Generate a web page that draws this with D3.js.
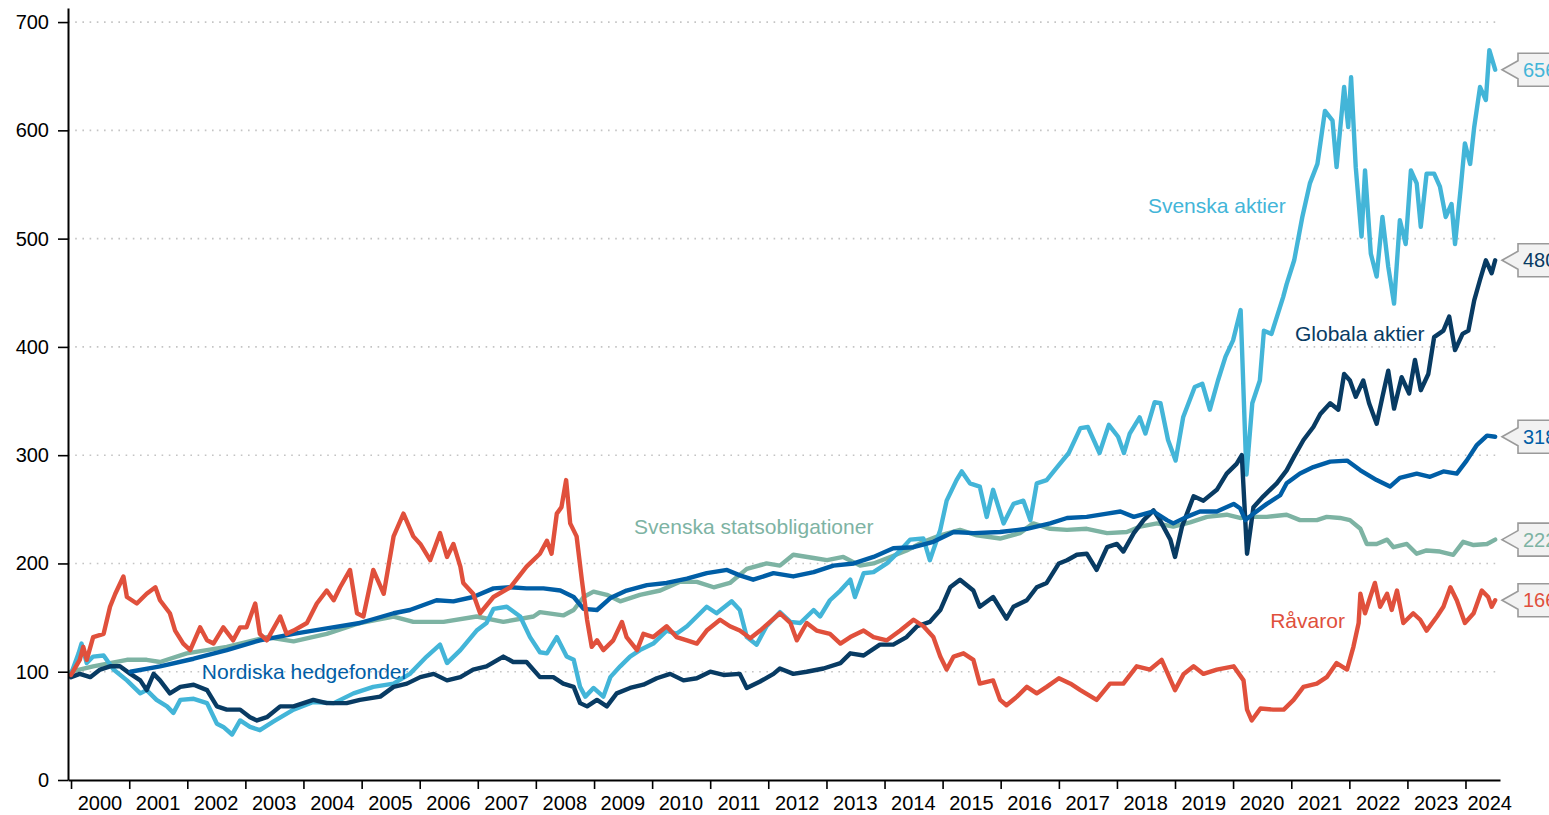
<!DOCTYPE html>
<html>
<head>
<meta charset="utf-8">
<script src="https://cdn.jsdelivr.net/npm/d3@7"></script>
<style>
  body { margin: 0; background: #fff; }
  svg { display: block; font-family: "Liberation Sans", Arial, sans-serif; }
</style>
</head>
<body>
<div id="chart"></div>
<script>
// Index series, [decimal year, value]
var svenskaAktier = [[2000.00,98],[2000.13,117],[2000.18,126],[2000.27,108],[2000.38,114],[2000.56,115],[2000.73,102],[2000.96,92],[2001.19,80],[2001.30,83],[2001.47,74],[2001.65,68],[2001.76,62],[2001.88,74],[2002.11,75],[2002.34,71],[2002.51,52],[2002.62,49],[2002.77,42],[2002.91,55],[2003.08,49],[2003.25,46],[2003.48,54],[2003.83,65],[2004.17,72],[2004.52,71],[2004.86,80],[2005.20,86],[2005.55,89],[2005.83,98],[2006.12,114],[2006.35,125],[2006.47,108],[2006.70,120],[2006.98,138],[2007.15,145],[2007.27,158],[2007.50,160],[2007.73,151],[2007.90,132],[2008.07,118],[2008.19,117],[2008.36,132],[2008.53,114],[2008.65,111],[2008.76,86],[2008.85,77],[2008.99,85],[2009.16,77],[2009.28,95],[2009.45,105],[2009.62,114],[2009.79,120],[2010.02,126],[2010.25,138],[2010.42,135],[2010.60,142],[2010.77,151],[2010.94,160],[2011.11,154],[2011.37,165],[2011.51,157],[2011.63,132],[2011.80,125],[2011.97,142],[2012.20,155],[2012.38,146],[2012.55,145],[2012.78,157],[2012.89,151],[2013.06,166],[2013.24,175],[2013.41,185],[2013.49,169],[2013.64,191],[2013.81,192],[2014.04,200],[2014.27,212],[2014.44,222],[2014.67,223],[2014.78,203],[2014.96,231],[2015.07,258],[2015.24,277],[2015.33,285],[2015.47,274],[2015.64,271],[2015.76,243],[2015.87,268],[2016.05,237],[2016.22,255],[2016.39,258],[2016.51,240],[2016.62,274],[2016.79,277],[2016.97,289],[2017.17,302],[2017.37,325],[2017.50,326],[2017.70,302],[2017.86,328],[2018.02,317],[2018.12,302],[2018.22,320],[2018.39,335],[2018.49,320],[2018.65,349],[2018.75,348],[2018.88,314],[2019.01,295],[2019.14,335],[2019.34,363],[2019.47,366],[2019.60,342],[2019.74,369],[2019.87,391],[2020.00,406],[2020.13,434],[2020.23,282],[2020.33,348],[2020.46,369],[2020.53,415],[2020.66,412],[2020.86,446],[2020.92,458],[2021.05,480],[2021.19,520],[2021.32,551],[2021.45,569],[2021.58,618],[2021.71,609],[2021.78,566],[2021.91,640],[2021.98,603],[2022.03,649],[2022.11,566],[2022.21,502],[2022.27,563],[2022.37,486],[2022.47,465],[2022.57,520],[2022.67,474],[2022.77,440],[2022.87,517],[2022.97,495],[2023.06,563],[2023.16,551],[2023.23,511],[2023.33,560],[2023.46,560],[2023.56,548],[2023.66,520],[2023.76,532],[2023.82,495],[2023.92,548],[2023.99,588],[2024.08,569],[2024.15,603],[2024.25,640],[2024.35,628],[2024.41,674],[2024.51,656]];

var globalaAktier = [[2000.00,95],[2000.15,98],[2000.33,95],[2000.50,102],[2000.67,105],[2000.84,105],[2001.02,98],[2001.19,92],[2001.30,83],[2001.42,98],[2001.53,92],[2001.70,80],[2001.88,86],[2002.11,88],[2002.34,83],[2002.51,68],[2002.68,65],[2002.91,65],[2003.08,58],[2003.20,55],[2003.37,58],[2003.60,68],[2003.83,68],[2004.17,74],[2004.40,71],[2004.74,71],[2004.97,74],[2005.32,77],[2005.55,86],[2005.78,89],[2006.01,95],[2006.24,98],[2006.47,92],[2006.70,95],[2006.92,102],[2007.15,105],[2007.44,114],[2007.61,109],[2007.84,109],[2008.07,95],[2008.30,95],[2008.47,89],[2008.65,86],[2008.76,71],[2008.88,68],[2009.05,74],[2009.22,68],[2009.39,80],[2009.62,85],[2009.85,88],[2010.08,94],[2010.31,98],[2010.54,92],[2010.77,94],[2011.00,100],[2011.23,97],[2011.51,98],[2011.63,85],[2011.86,91],[2012.09,98],[2012.20,103],[2012.43,98],[2012.66,100],[2012.95,103],[2013.24,108],[2013.41,117],[2013.64,115],[2013.92,125],[2014.15,125],[2014.38,132],[2014.56,142],[2014.78,146],[2014.96,157],[2015.13,178],[2015.30,185],[2015.53,175],[2015.64,160],[2015.87,169],[2016.10,149],[2016.22,160],[2016.45,166],[2016.62,178],[2016.79,182],[2017.00,200],[2017.14,203],[2017.31,208],[2017.48,209],[2017.65,194],[2017.83,215],[2018.00,218],[2018.11,211],[2018.29,228],[2018.46,240],[2018.63,249],[2018.74,240],[2018.92,222],[2019.00,206],[2019.12,234],[2019.32,262],[2019.49,258],[2019.72,268],[2019.89,283],[2020.06,292],[2020.15,300],[2020.24,209],[2020.35,252],[2020.52,262],[2020.75,274],[2020.92,286],[2021.04,298],[2021.21,314],[2021.38,326],[2021.50,338],[2021.67,348],[2021.81,342],[2021.91,375],[2022.01,369],[2022.11,354],[2022.24,369],[2022.34,348],[2022.47,329],[2022.57,354],[2022.67,378],[2022.77,343],[2022.90,372],[2023.03,357],[2023.13,388],[2023.23,360],[2023.36,375],[2023.46,409],[2023.62,415],[2023.72,428],[2023.82,397],[2023.95,412],[2024.05,415],[2024.15,443],[2024.25,462],[2024.35,480],[2024.45,468],[2024.51,480]];

var nordiskaHedgefonder = [[2001.02,100],[2001.53,105],[2002.11,112],[2002.68,120],[2003.25,129],[2003.83,135],[2004.40,140],[2004.97,145],[2005.55,154],[2005.83,157],[2006.29,166],[2006.58,165],[2006.92,169],[2007.27,177],[2007.56,178],[2007.84,177],[2008.13,177],[2008.42,175],[2008.65,169],[2008.82,158],[2009.05,157],[2009.28,168],[2009.56,175],[2009.91,180],[2010.25,182],[2010.60,186],[2010.94,191],[2011.29,194],[2011.51,189],[2011.74,185],[2012.09,191],[2012.43,188],[2012.78,192],[2013.12,198],[2013.47,200],[2013.81,206],[2014.15,214],[2014.50,215],[2014.84,220],[2015.19,229],[2015.53,228],[2015.99,229],[2016.45,232],[2016.85,237],[2017.14,242],[2017.48,243],[2017.83,246],[2018.06,248],[2018.29,243],[2018.63,248],[2018.86,240],[2018.97,237],[2019.20,243],[2019.43,248],[2019.72,248],[2020.01,255],[2020.12,251],[2020.21,240],[2020.35,246],[2020.58,255],[2020.81,263],[2020.92,274],[2021.15,283],[2021.38,289],[2021.67,294],[2021.96,295],[2022.19,286],[2022.47,277],[2022.70,271],[2022.87,279],[2023.16,283],[2023.39,280],[2023.62,285],[2023.85,283],[2024.02,295],[2024.19,309],[2024.37,318],[2024.51,317]];

var svenskaStatsobligationer = [[2000.00,100],[2000.38,105],[2000.96,111],[2001.30,111],[2001.53,109],[2001.99,117],[2002.68,123],[2003.37,132],[2003.83,128],[2004.40,135],[2004.97,145],[2005.55,151],[2005.89,146],[2006.41,146],[2006.98,151],[2007.44,146],[2007.96,151],[2008.07,155],[2008.47,152],[2008.65,157],[2008.82,169],[2008.99,174],[2009.22,171],[2009.45,165],[2009.79,171],[2010.14,175],[2010.48,183],[2010.77,183],[2011.06,178],[2011.34,182],[2011.63,195],[2011.97,200],[2012.20,198],[2012.43,208],[2012.78,205],[2013.01,203],[2013.29,206],[2013.58,198],[2013.81,200],[2014.10,206],[2014.38,212],[2014.67,220],[2014.96,226],[2015.30,231],[2015.59,226],[2015.99,223],[2016.33,228],[2016.56,237],[2016.85,232],[2017.14,231],[2017.48,232],[2017.83,228],[2018.17,229],[2018.40,234],[2018.69,237],[2018.97,234],[2019.26,238],[2019.55,243],[2019.89,245],[2020.12,242],[2020.35,243],[2020.58,243],[2020.92,245],[2021.15,240],[2021.44,240],[2021.61,243],[2021.84,242],[2022.01,240],[2022.19,232],[2022.30,218],[2022.47,218],[2022.65,222],[2022.76,215],[2022.99,218],[2023.16,209],[2023.33,212],[2023.56,211],[2023.79,208],[2023.96,220],[2024.14,217],[2024.37,218],[2024.51,222]];

var ravaror = [[2000.00,97],[2000.15,111],[2000.21,123],[2000.27,111],[2000.38,132],[2000.56,135],[2000.67,160],[2000.76,172],[2000.90,188],[2000.96,169],[2001.13,163],[2001.30,172],[2001.45,178],[2001.53,166],[2001.70,154],[2001.79,138],[2001.93,126],[2002.05,120],[2002.22,141],[2002.34,129],[2002.45,126],[2002.62,141],[2002.79,129],[2002.91,141],[2003.02,141],[2003.17,163],[2003.25,135],[2003.37,129],[2003.60,151],[2003.71,135],[2003.83,138],[2004.06,145],[2004.23,163],[2004.40,175],[2004.52,166],[2004.63,178],[2004.80,194],[2004.92,154],[2005.03,151],[2005.20,194],[2005.38,172],[2005.55,225],[2005.72,246],[2005.89,225],[2006.01,218],[2006.18,203],[2006.35,228],[2006.47,206],[2006.58,218],[2006.70,197],[2006.75,182],[2006.92,172],[2007.04,154],[2007.27,169],[2007.56,178],[2007.84,197],[2008.07,209],[2008.19,221],[2008.27,209],[2008.36,246],[2008.44,252],[2008.52,277],[2008.59,237],[2008.70,225],[2008.79,185],[2008.88,148],[2008.96,123],[2009.05,129],[2009.16,120],[2009.33,129],[2009.48,146],[2009.56,132],[2009.74,120],[2009.85,135],[2010.02,132],[2010.25,142],[2010.42,132],[2010.60,129],[2010.77,126],[2010.94,138],[2011.17,148],[2011.34,142],[2011.51,138],[2011.69,131],[2011.86,138],[2012.03,146],[2012.20,154],[2012.38,145],[2012.49,129],[2012.66,145],[2012.83,138],[2013.06,135],[2013.24,126],[2013.41,132],[2013.64,138],[2013.81,132],[2014.04,129],[2014.27,138],[2014.50,148],[2014.67,142],[2014.84,132],[2014.96,114],[2015.07,102],[2015.19,114],[2015.36,117],[2015.53,111],[2015.64,89],[2015.87,92],[2015.99,74],[2016.10,69],[2016.28,77],[2016.45,86],[2016.62,80],[2016.79,86],[2017.00,94],[2017.20,89],[2017.37,83],[2017.65,74],[2017.88,89],[2018.11,89],[2018.34,105],[2018.57,102],[2018.77,111],[2019.00,83],[2019.15,98],[2019.32,105],[2019.49,98],[2019.72,102],[2020.01,105],[2020.18,92],[2020.24,65],[2020.32,55],[2020.47,66],[2020.69,65],[2020.87,65],[2021.04,74],[2021.21,86],[2021.44,89],[2021.61,95],[2021.78,108],[2021.96,102],[2022.07,123],[2022.16,145],[2022.19,172],[2022.27,154],[2022.36,169],[2022.44,182],[2022.53,160],[2022.65,172],[2022.73,157],[2022.82,175],[2022.93,145],[2023.10,154],[2023.22,148],[2023.33,138],[2023.51,151],[2023.62,160],[2023.74,178],[2023.85,166],[2023.99,145],[2024.14,154],[2024.28,175],[2024.39,169],[2024.45,160],[2024.51,166]];

var yTicks = [0, 100, 200, 300, 400, 500, 600, 700];
var yearLabels = ["2000","2001","2002","2003","2004","2005","2006","2007","2008","2009","2010","2011","2012","2013","2014","2015","2016","2017","2018","2019","2020","2021","2022","2023","2024"];
var endLabels = ["656", "480", "318", "222", "166"];

// series, bottom to top drawing order
var series = [
    { name: "Svenska statsobligationer", data: svenskaStatsobligationer, color: "#7db3a3", end: endLabels[3], lx: 2011.75, ly: 234 },
    { name: "Svenska aktier", data: svenskaAktier, color: "#43b5d8", end: endLabels[0], lx: 2019.72, ly: 530 },
    { name: "Globala aktier", data: globalaAktier, color: "#083b63", end: endLabels[1], lx: 2022.18, ly: 412 },
    { name: "Nordiska hedgefonder", data: nordiskaHedgefonder, color: "#005ea6", end: endLabels[2], lx: 2004.03, ly: 100 },
    { name: "Råvaror", data: ravaror, color: "#e0503c", end: endLabels[4], lx: 2021.28, ly: 147 }
];

var width = 1549;
var height = 815;

function yearToDate(t) {
    var yr = Math.floor(t);
    var a = new Date(yr, 0, 1), b = new Date(yr + 1, 0, 1);
    return new Date(+a + (t - yr) * (b - a));
}

var svg = d3.select("#chart")
    .append("svg")
    .attr("width", width)
    .attr("height", height);

var x = d3.scaleTime()
    .domain([new Date(1999, 11, 13), new Date(2024, 7, 5)])
    .range([68, 1500]);

var y = d3.scaleLinear()
    .domain([0, 713])
    .range([780, 8]);

// dotted gridlines
svg.append("g")
    .selectAll("line")
    .data(yTicks.filter(function(d) { return d > 0; }))
    .enter()
    .append("line")
    .attr("x1", 68)
    .attr("x2", 1500)
    .attr("y1", function(d) { return y(d); })
    .attr("y2", function(d) { return y(d); })
    .attr("stroke", "#c4c4c4")
    .attr("stroke-width", 1.6)
    .attr("stroke-dasharray", "1.6,5.6");

// lines
var line = d3.line()
    .x(function(d) { return x(yearToDate(d[0])); })
    .y(function(d) { return y(d[1]); });

svg.append("g")
    .selectAll("path")
    .data(series)
    .enter()
    .append("path")
    .attr("d", function(d) { return line(d.data); })
    .attr("fill", "none")
    .attr("stroke", function(d) { return d.color; })
    .attr("stroke-width", 4.4)
    .attr("stroke-linejoin", "round")
    .attr("stroke-linecap", "round");

// y axis
var yAxis = svg.append("g")
    .attr("transform", "translate(68,0)")
    .call(d3.axisLeft(y).tickValues(yTicks).tickSize(10).tickSizeOuter(0).tickPadding(9));
yAxis.select(".domain").attr("stroke", "#000").attr("stroke-width", 2);
yAxis.selectAll(".tick line").attr("stroke", "#000").attr("stroke-width", 1.6);
yAxis.selectAll(".tick text")
    .attr("fill", "#000")
    .style("font-size", "20px")
    .style("font-family", "'Liberation Sans', Arial, sans-serif");

// x axis, ticks at year starts, labels mid-year
var xAxis = svg.append("g")
    .attr("transform", "translate(0,780)")
    .call(d3.axisBottom(x).ticks(d3.timeYear.every(1)).tickFormat("").tickSize(9).tickSizeOuter(0));
xAxis.select(".domain").attr("stroke", "#000").attr("stroke-width", 2);
xAxis.selectAll(".tick line").attr("stroke", "#000").attr("stroke-width", 1.6);

svg.append("g")
    .selectAll("text")
    .data(yearLabels)
    .enter()
    .append("text")
    .attr("x", function(d) { return x(new Date(+d, 6, 1)); })
    .attr("y", 810)
    .attr("text-anchor", "middle")
    .attr("fill", "#000")
    .style("font-size", "20px")
    .text(function(d) { return d; })
    .each(function() {
        // keep the last label from running past the axis end
        var half = this.getComputedTextLength() / 2;
        var cx = +d3.select(this).attr("x");
        if (cx + half > 1512) d3.select(this).attr("x", 1512 - half);
    });

// series name labels
svg.append("g")
    .selectAll("text")
    .data(series)
    .enter()
    .append("text")
    .attr("x", function(d) { return x(yearToDate(d.lx)); })
    .attr("y", function(d) { return y(d.ly); })
    .attr("dy", "0.35em")
    .attr("text-anchor", "middle")
    .attr("fill", function(d) { return d.color; })
    .style("font-size", "21px")
    .text(function(d) { return d.name; });

// end value callouts (run past the right edge, as in the original)
var callout = svg.append("g")
    .selectAll("g")
    .data(series)
    .enter()
    .append("g")
    .attr("transform", function(d) {
        var last = d.data[d.data.length - 1];
        return "translate(1502," + y(last[1]) + ")";
    });

callout.append("path")
    .attr("d", "M0,0 L16,-9 L16,-16.5 L70,-16.5 L70,16.5 L16,16.5 L16,9 Z")
    .attr("fill", "#f2f2f2")
    .attr("stroke", "#9a9a9a")
    .attr("stroke-width", 1.6)
    .attr("stroke-linejoin", "miter");

callout.append("text")
    .attr("x", 21)
    .attr("dy", "0.35em")
    .attr("fill", function(d) { return d.color; })
    .style("font-size", "20px")
    .text(function(d) { return d.end; });
</script>
</body>
</html>
